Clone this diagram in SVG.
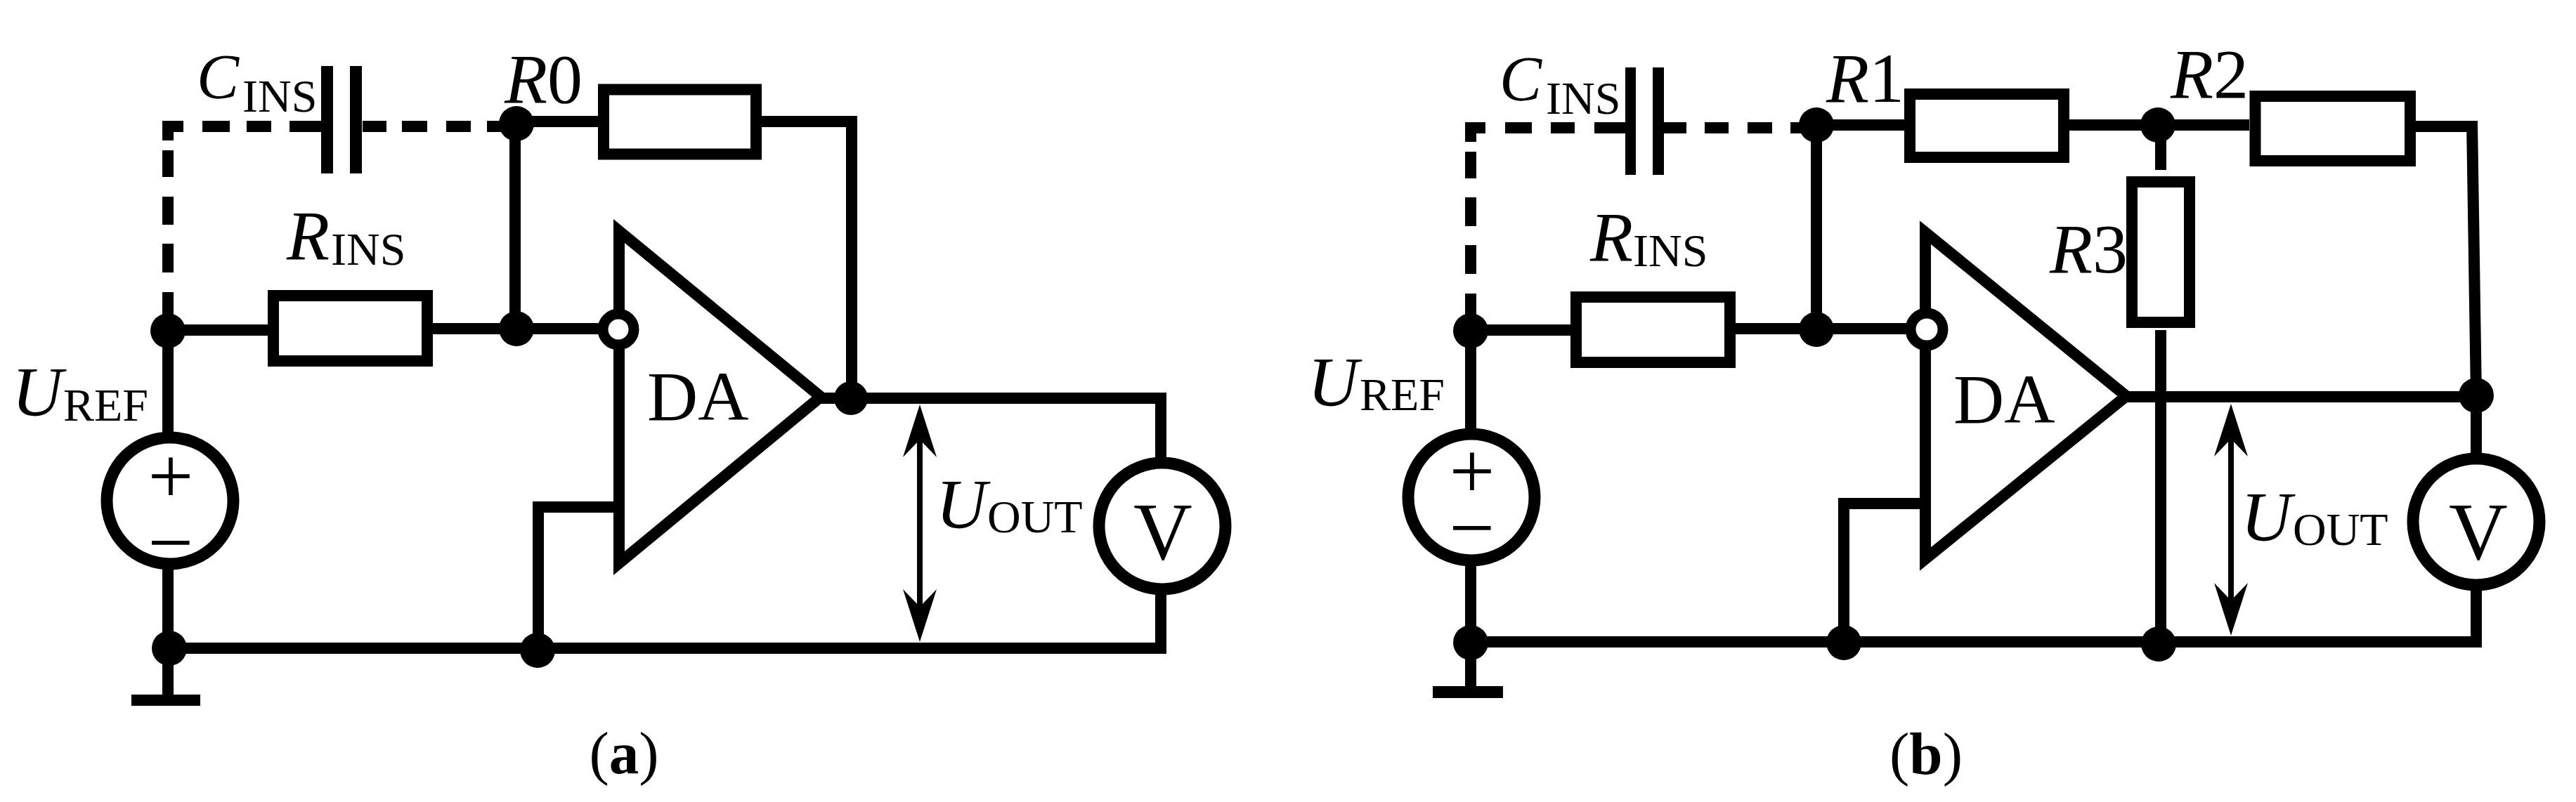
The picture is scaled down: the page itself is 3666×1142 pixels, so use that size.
<svg xmlns="http://www.w3.org/2000/svg" width="3666" height="1142" viewBox="0 0 3666 1142">
<style>
text{font-family:"Liberation Serif","Times New Roman",serif;fill:#000}
.i{font-style:italic;font-size:100px}
.c{font-style:italic;font-size:90px}
.s{font-size:66px}
.m{font-size:100px}
.v{font-size:116px;text-anchor:middle}
.pm{font-size:115px;text-anchor:middle}
.cap{font-size:85px;text-anchor:middle}
.cap .b{font-weight:bold}
.w{fill:none;stroke:#000;stroke-width:16}
.a{fill:none;stroke:#000;stroke-width:8;marker-start:url(#barb);marker-end:url(#barb)}
.r{fill:#fff;stroke:#000;stroke-width:16}
.o{fill:#fff;stroke:#000;stroke-width:17}
.op{fill:#fff;stroke:#000;stroke-width:16;stroke-miterlimit:6}
.j{fill:#000}
.io{fill:#fff;stroke:#000;stroke-width:15}
</style>
<defs>
<marker id="barb" markerUnits="userSpaceOnUse" markerWidth="80" markerHeight="50" viewBox="0 0 80 50" refX="62" refY="24" orient="auto-start-reverse">
<path d="M75,24 L0,0 L25,24 L0,48 Z" fill="#000"/>
</marker>
</defs>
<rect width="3666" height="1142" fill="#fff"/>

<g id="connectors">
<g id="connectors-a">
<path class="w" d="M239,172V200M239,214V252M239,280V320M239,347V388M239,416V471"/>
<path class="w" d="M231,180H261M288,180H327M351,180H386M412,180H460M516,180H550M572,180H608M635,180H670M693,180H735"/>
<path class="w" d="M735,173H851M1084,173H1212V566"/>
<path class="w" d="M733,176V468"/>
<path class="w" d="M239,470H381M616,468H860"/>
<path class="w" d="M1165,567H1660"/>
<path class="w" d="M1652,560V660M1652,840V923"/>
<path class="w" d="M239,471V620M239,808V990"/>
<path class="w" d="M239,923H1660"/>
<path class="w" d="M766,926V714"/>
<path class="w" d="M763,722H880"/>
<path class="a" d="M1309,589V901"/>
</g>
<g id="connectors-b">
<path class="w" d="M2093,174V202M2093,216V254M2093,281V322M2093,349V390M2093,418V471"/>
<path class="w" d="M2085,182H2114M2142,182H2180M2207,182H2241M2269,182H2315M2368,182H2400M2426,182H2460M2487,182H2522M2548,182H2586"/>
<path class="w" d="M2586,178H2711M2944,178H3201M3438,180H3526"/>
<path class="w" d="M2585,178V469"/>
<path class="w" d="M2093,470H2235M2470,468H2720"/>
<path class="w" d="M3518,172L3524,564V660M3524,830V922"/>
<path class="w" d="M3075,178V242M3075,470V917"/>
<path class="w" d="M3025,565H3524"/>
<path class="w" d="M2093,471V620M2093,800V980"/>
<path class="w" d="M2093,914H3532"/>
<path class="w" d="M2624,915V709"/>
<path class="w" d="M2621,717H2740"/>
<path class="a" d="M3175,588V892"/>
</g>
</g>

<g id="panel-a">
<g id="a-cins">
<rect class="j" x="457" y="94" width="17" height="153"/>
<rect class="j" x="498" y="94" width="17" height="153"/>
<text class="c" x="280" y="140">C</text><text class="s" x="345" y="159">INS</text>
</g>
<g id="a-r0">
<rect class="r" x="859" y="127.500" width="217" height="92"/>
<text x="718" y="146" class="m"><tspan class="i">R</tspan>0</text>
</g>
<g id="a-rins">
<rect class="r" x="389" y="421" width="219" height="93"/>
<text class="i" x="408" y="369">R</text><text class="s" x="471" y="377">INS</text>
</g>
<g id="a-da">
<polygon class="op" points="881,329 1168,565 881,802"/>
<circle class="io" cx="880" cy="469" r="22"/>
<text class="m" x="921" y="598">DA</text>
</g>
<g id="a-uref">
<circle class="o" cx="242" cy="713" r="90"/>
<text class="pm" x="243" y="716">+</text>
<text class="pm" x="243" y="811">−</text>
<text class="i" x="17" y="591">U</text><text class="s" x="90" y="599">REF</text>
</g>
<g id="a-v">
<circle class="o" cx="1654" cy="749" r="90"/>
<text class="v" x="1655" y="796">V</text>
</g>
<g id="a-uout">
<text class="i" x="1332" y="751">U</text><text class="s" x="1405" y="758">OUT</text>
</g>
<g id="a-gnd"><rect class="j" x="187" y="989" width="98" height="16"/></g>
<g id="a-j1"><circle class="j" cx="239" cy="471" r="25"/></g>
<g id="a-j2"><circle class="j" cx="735" cy="176" r="25"/></g>
<g id="a-j3"><circle class="j" cx="735" cy="468" r="25"/></g>
<g id="a-j4"><circle class="j" cx="1211" cy="567" r="24"/></g>
<g id="a-j5"><circle class="j" cx="241" cy="923" r="25"/></g>
<g id="a-j6"><circle class="j" cx="765" cy="926" r="25"/></g>
<g id="a-caption"><text class="cap" x="888" y="1101">(<tspan class="b">a</tspan>)</text></g>
</g>

<g id="panel-b">
<g id="b-cins">
<rect class="j" x="2313" y="96" width="15" height="153"/>
<rect class="j" x="2352" y="96" width="16" height="153"/>
<text class="c" x="2134" y="143">C</text><text class="s" x="2200" y="162">INS</text>
</g>
<g id="b-r1">
<rect class="r" x="2718" y="134" width="219" height="90"/>
<text x="2599" y="145" class="m"><tspan class="i">R</tspan>1</text>
</g>
<g id="b-r2">
<rect class="r" x="3209.500" y="137" width="220.500" height="92"/>
<text x="3089" y="139" class="m"><tspan class="i">R</tspan>2</text>
</g>
<g id="b-r3">
<rect class="r" x="3034" y="259" width="82" height="200"/>
<text x="2917" y="388" class="m"><tspan class="i">R</tspan>3</text>
</g>
<g id="b-rins">
<rect class="r" x="2243" y="423" width="219" height="93"/>
<text class="i" x="2263" y="371">R</text><text class="s" x="2324" y="379">INS</text>
</g>
<g id="b-da">
<polygon class="op" points="2740,331 3026,564 2740,796"/>
<circle class="io" cx="2742" cy="469" r="23"/>
<text class="m" x="2780" y="602">DA</text>
</g>
<g id="b-uref">
<circle class="o" cx="2094" cy="708" r="90"/>
<text class="pm" x="2095" y="709">+</text>
<text class="pm" x="2095" y="790">−</text>
<text class="i" x="1861" y="577">U</text><text class="s" x="1935" y="584">REF</text>
</g>
<g id="b-v">
<circle class="o" cx="3524" cy="743" r="90"/>
<text class="v" x="3527" y="796">V</text>
</g>
<g id="b-uout">
<text class="i" x="3189" y="769">U</text><text class="s" x="3263" y="776">OUT</text>
</g>
<g id="b-gnd"><rect class="j" x="2039" y="977" width="100" height="17"/></g>
<g id="b-j1"><circle class="j" cx="2093" cy="471" r="25"/></g>
<g id="b-j2"><circle class="j" cx="2585" cy="178" r="25"/></g>
<g id="b-j3"><circle class="j" cx="2585" cy="469" r="25"/></g>
<g id="b-j4"><circle class="j" cx="3071" cy="178" r="25"/></g>
<g id="b-j5"><circle class="j" cx="3524" cy="563" r="25"/></g>
<g id="b-j6"><circle class="j" cx="2093" cy="915" r="25"/></g>
<g id="b-j7"><circle class="j" cx="2624" cy="915" r="25"/></g>
<g id="b-j8"><circle class="j" cx="3072" cy="917" r="25"/></g>
<g id="b-caption"><text class="cap" x="2741" y="1102">(<tspan class="b">b</tspan>)</text></g>
</g>
</svg>
